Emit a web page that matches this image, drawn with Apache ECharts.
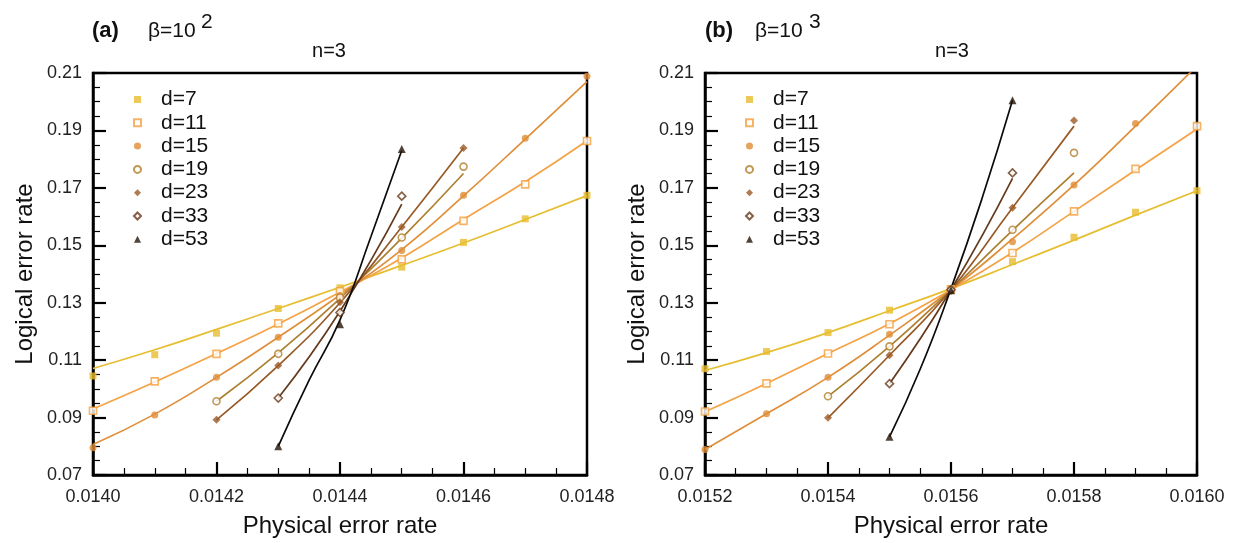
<!DOCTYPE html>
<html>
<head>
<meta charset="utf-8">
<script src="https://cdn.jsdelivr.net/npm/echarts@6/dist/echarts.min.js"></script>
<style>html,body{margin:0;padding:0;background:#fff}#c{width:1233px;height:543px}</style>
</head>
<body>
<div id="c"></div>
<script>
// ---------- data: panel (a), beta = 10^2 ----------
const dNames = ['d=7', 'd=11', 'd=15', 'd=19', 'd=23', 'd=33', 'd=53'];

const aX_full = [0.0140, 0.0141, 0.0142, 0.0143, 0.0144, 0.0145, 0.0146, 0.0147, 0.0148];
const aX_mid = [0.0142, 0.0143, 0.0144, 0.0145, 0.0146];
const aX_short = [0.0143, 0.0144, 0.0145];
const aX_fit53 = [0.0143, 0.01435, 0.0144, 0.01445, 0.0145];

const a_d7 = [0.1045, 0.1119, 0.1194, 0.1280, 0.1352, 0.1424, 0.1510, 0.1592, 0.1674];
const a_d11 = [0.0924, 0.1026, 0.1122, 0.1228, 0.1340, 0.1451, 0.1585, 0.1712, 0.1863];
const a_d15 = [0.0795, 0.0909, 0.1040, 0.1180, 0.1325, 0.1482, 0.1674, 0.1873, 0.2089];
const a_d19 = [0.0957, 0.1122, 0.1318, 0.1527, 0.1774];
const a_d23 = [0.0892, 0.1081, 0.1302, 0.1564, 0.1839];
const a_d33 = [0.0968, 0.1266, 0.1671];
const a_d53 = [0.0800, 0.1225, 0.1835];

const a_fit7 = [0.1071, 0.1136, 0.1207, 0.1280, 0.1354, 0.1430, 0.1508, 0.1590, 0.1673];
const a_fit11 = [0.0930, 0.1024, 0.1123, 0.1226, 0.1337, 0.1456, 0.1590, 0.1721, 0.1864];
const a_fit15 = [0.0806, 0.0912, 0.1040, 0.1180, 0.1327, 0.1485, 0.1672, 0.1870, 0.2070];
const a_fit19 = [0.0957, 0.1125, 0.1315, 0.1525, 0.1750];
const a_fit23 = [0.0892, 0.1081, 0.1300, 0.1564, 0.1839];
const a_fit33 = [0.0968, 0.1270, 0.1643];
const a_fit53 = [0.0800, 0.1030, 0.1240, 0.1530, 0.1830];

// ---------- data: panel (b), beta = 10^3 ----------
const bX_full = [0.0152, 0.0153, 0.0154, 0.0155, 0.0156, 0.0157, 0.0158, 0.0159, 0.0160];
const bX_d15 = [0.0152, 0.0153, 0.0154, 0.0155, 0.0156, 0.0157, 0.0158, 0.0159];
const bX_mid = [0.0154, 0.0155, 0.0156, 0.0157, 0.0158];
const bX_short = [0.0155, 0.0156, 0.0157];
const bX_fit53 = [0.0155, 0.01555, 0.0156, 0.01565, 0.0157];

const b_d7 = [0.1070, 0.1130, 0.1196, 0.1274, 0.1349, 0.1443, 0.1528, 0.1615, 0.1690];
const b_d11 = [0.0921, 0.1019, 0.1123, 0.1225, 0.1347, 0.1473, 0.1618, 0.1766, 0.1915];
const b_d15 = [0.0789, 0.0913, 0.1040, 0.1190, 0.1345, 0.1512, 0.1710, 0.1924];
const b_d19 = [0.0974, 0.1148, 0.1346, 0.1554, 0.1822];
const b_d23 = [0.0899, 0.1117, 0.1344, 0.1631, 0.1935];
const b_d33 = [0.1018, 0.1345, 0.1752];
const b_d53 = [0.0833, 0.1343, 0.2005];

const b_fit7 = [0.1064, 0.1126, 0.1196, 0.1272, 0.1349, 0.1433, 0.1518, 0.1605, 0.1690];
const b_fit11 = [0.0920, 0.1019, 0.1123, 0.1227, 0.1345, 0.1475, 0.1618, 0.1762, 0.1905];
const b_fit15 = [0.0789, 0.0913, 0.1040, 0.1187, 0.1345, 0.1522, 0.1710, 0.1915, 0.2125];
const b_fit19 = [0.0974, 0.1148, 0.1345, 0.1552, 0.1752];
const b_fit23 = [0.0899, 0.1117, 0.1345, 0.1631, 0.1915];
const b_fit33 = [0.1018, 0.1345, 0.1733];
const b_fit53 = [0.0833, 0.1069, 0.1349, 0.1660, 0.2005];

// ---------- ticks ----------
const aXTicks = {min: 0.0140, max: 0.0148, step: 0.0002};
const bXTicks = {min: 0.0152, max: 0.0160, step: 0.0002};
const yTicks = {min: 0.07, max: 0.21, step: 0.02};

// ---------- styles ----------
const FONT = '"Liberation Sans", Arial, Helvetica, sans-serif';
const markerColors = ['#e8bd2e', '#f5a03c', '#e08c35', '#b07d28', '#9c5a24', '#663818', '#231409'];
const lineColors = ['#e6be30', '#f5a245', '#df8f3a', '#ad8030', '#985a26', '#653a1c', '#0d0a08'];
const symbols = ['rect', 'rect', 'circle', 'circle', 'diamond', 'diamond', 'triangle'];
const hollow = [false, true, false, true, false, true, false];
const sizes = [7, 7, 7, 7, 8, 8, 8];

function pairs(xs, ys) { return xs.map((x, i) => [x, ys[i]]); }

const panels = [
  {
    marks: [[aX_full, a_d7], [aX_full, a_d11], [aX_full, a_d15], [aX_mid, a_d19], [aX_mid, a_d23], [aX_short, a_d33], [aX_short, a_d53]],
    fits: [[aX_full, a_fit7], [aX_full, a_fit11], [aX_full, a_fit15], [aX_mid, a_fit19], [aX_mid, a_fit23], [aX_short, a_fit33], [aX_fit53, a_fit53]]
  },
  {
    marks: [[bX_full, b_d7], [bX_full, b_d11], [bX_d15, b_d15], [bX_mid, b_d19], [bX_mid, b_d23], [bX_short, b_d33], [bX_short, b_d53]],
    fits: [[bX_full, b_fit7], [bX_full, b_fit11], [bX_full, b_fit15], [bX_mid, b_fit19], [bX_mid, b_fit23], [bX_short, b_fit33], [bX_fit53, b_fit53]]
  }
];

const grids = [
  {left: 93, top: 73, width: 494, height: 408},
  {left: 705, top: 73, width: 492, height: 408}
];

const series = [];
panels.forEach((p, gi) => {
  p.fits.forEach((f, k) => {
    series.push({
      type: 'line', name: 'fit ' + dNames[k], xAxisIndex: gi, yAxisIndex: gi,
      data: pairs(f[0], f[1]), showSymbol: false, symbol: 'none', smooth: 0.5,
      lineStyle: {color: lineColors[k], width: 1.7}, silent: true, z: 2
    });
  });
  p.marks.forEach((m, k) => {
    series.push({
      type: 'scatter', name: dNames[k], xAxisIndex: gi, yAxisIndex: gi,
      data: pairs(m[0], m[1]), symbol: symbols[k], symbolSize: sizes[k],
      itemStyle: hollow[k]
        ? {color: '#fff', borderColor: markerColors[k], borderWidth: 1.6}
        : {color: markerColors[k]},
      z: 3
    });
  });
});

function xAxis(gi, t) {
  return {
    type: 'value', gridIndex: gi, min: t.min, max: t.max, interval: t.step,
    name: 'Physical error rate', nameLocation: 'middle', nameGap: 39,
    nameTextStyle: {fontFamily: FONT, fontSize: 24, color: '#111'},
    axisLine: {show: true, onZero: false, lineStyle: {color: '#000', width: 2.5}},
    axisTick: {show: true, inside: true, length: 13, lineStyle: {color: '#000', width: 2.2}},
    minorTick: {show: true, splitNumber: 4, length: 7, lineStyle: {color: '#000', width: 1.2}},
    splitLine: {show: false},
    axisLabel: {fontFamily: FONT, fontSize: 18, color: '#222', margin: 13,
      formatter: v => v.toFixed(4)}
  };
}
function yAxis(gi, t) {
  return {
    type: 'value', gridIndex: gi, min: t.min, max: t.max, interval: t.step,
    name: 'Logical error rate', nameLocation: 'middle', nameGap: 56,
    nameTextStyle: {fontFamily: FONT, fontSize: 24, color: '#111'},
    axisLine: {show: true, onZero: false, lineStyle: {color: '#000', width: 2.5}},
    axisTick: {show: true, inside: true, length: 13, lineStyle: {color: '#000', width: 2.2}},
    minorTick: {show: true, splitNumber: 4, length: 7, lineStyle: {color: '#000', width: 1.2}},
    splitLine: {show: false},
    axisLabel: {fontFamily: FONT, fontSize: 18, color: '#222', margin: 11,
      formatter: v => v.toFixed(2)}
  };
}

function legend(left) {
  return {
    orient: 'vertical', left: left, top: 84, data: dNames,
    itemWidth: 7, itemHeight: 7, itemGap: 2.3,
    textStyle: {fontFamily: FONT, fontSize: 21, color: '#111', lineHeight: 21, padding: [0, 0, 0, 15]},
    selectedMode: false
  };
}

function txt(x, y, text, size, bold, align) {
  return {type: 'text', x: x, y: y, silent: true,
    style: {text: text, fontFamily: FONT, fontSize: size, fontWeight: bold ? 'bold' : 'normal',
      fill: '#111', align: align || 'left', verticalAlign: 'middle'}};
}

const option = {
  animation: false,
  backgroundColor: '#fff',
  grid: grids.map(g => Object.assign({show: true, borderColor: '#000', borderWidth: 2.5, backgroundColor: 'transparent'}, g)),
  xAxis: [xAxis(0, aXTicks), xAxis(1, bXTicks)],
  yAxis: [yAxis(0, yTicks), yAxis(1, yTicks)],
  legend: [legend(128), legend(740)],
  series: series,
  graphic: [
    txt(92, 31, '(a)', 22, true),
    txt(148, 31, 'β=10', 21, false),
    txt(201, 22, '2', 21, false),
    txt(329, 51, 'n=3', 20, false, 'center'),
    txt(705, 31, '(b)', 22, true),
    txt(755, 31, 'β=10', 21, false),
    txt(809, 22, '3', 21, false),
    txt(952, 51, 'n=3', 20, false, 'center')
  ]
};

const chart = echarts.init(document.getElementById('c'), null, {renderer: 'canvas'});
chart.setOption(option);
</script>
</body>
</html>
